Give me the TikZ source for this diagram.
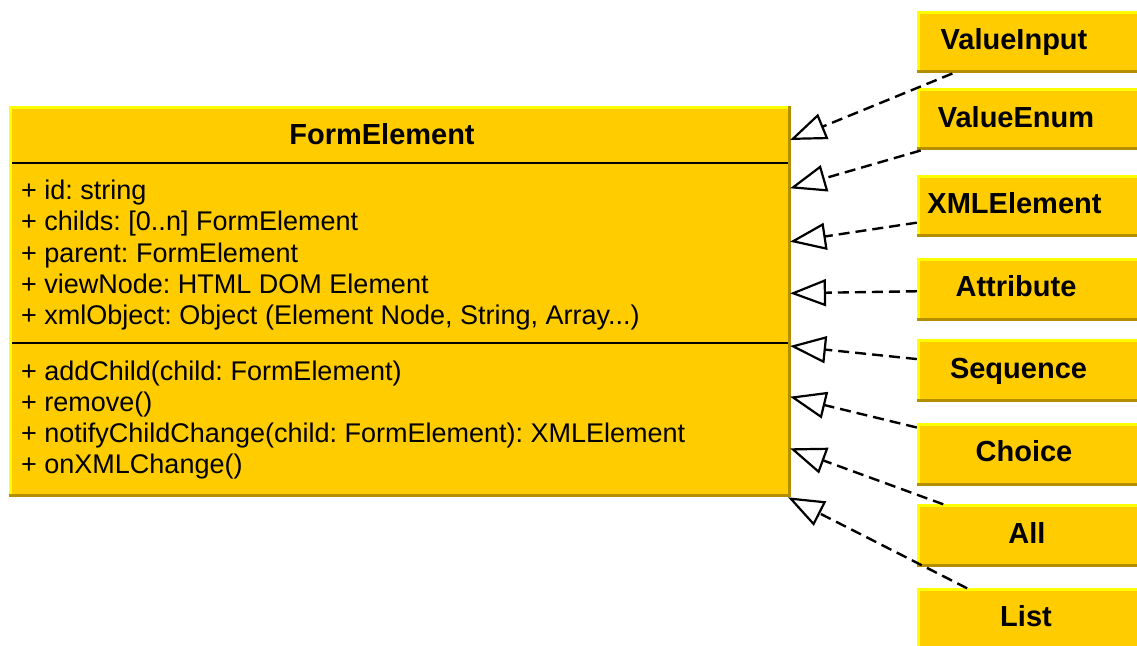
\documentclass[tikz,border=0pt]{standalone}
\usepackage{fontspec}
\setmainfont{Liberation Sans}
\usetikzlibrary{arrows.meta}
\definecolor{fc}{HTML}{FFCC00}
\definecolor{hlc}{HTML}{FFFF00}
\definecolor{shc}{HTML}{B38F00}
\frenchspacing
\tikzset{
  hl/.style={draw=hlc, line width=3bp},
  sh/.style={draw=shc, line width=3bp},
  divider/.style={draw=black, line width=2bp},
  subbox/.style={rectangle, fill=fc, draw=none, inner sep=0pt, minimum width=223bp, minimum height=62bp},
  mainbox/.style={rectangle, fill=fc, draw=none, inner sep=0pt, minimum width=782bp, minimum height=391bp},
  subtxt/.style={anchor=base, inner sep=0pt, font=\fontsize{29bp}{32bp}\selectfont\bfseries},
  memb/.style={anchor=base west, inner sep=0pt, font=\fontsize{27bp}{31bp}\selectfont},
  gen/.style={draw=black, line width=2.4bp, dash pattern=on 11bp off 6bp,
    -{Triangle[open, length=36bp, width=27bp, line width=2.2bp]}},
}
\begin{document}
\begin{tikzpicture}[x=1bp, y=-1bp]
\useasboundingbox (0,0) rectangle (1137,646);
\clip (0,0) rectangle (1137,646);
% main class box
\node[mainbox] (fe) at (400,301.5) {};
\draw[hl] ([shift={(1.5,0)}]fe.south west) -- ([shift={(1.5,1.5)}]fe.north west) -- ([shift={(0,1.5)}]fe.north east);
\draw[sh] ([shift={(0,-1.5)}]fe.south west) -- ([shift={(-1.5,-1.5)}]fe.south east) -- ([shift={(-1.5,0)}]fe.north east);
\draw[divider] (12,163.3) -- (788,163.3);
\draw[divider] (12,342.5) -- (788,342.5);
\node[subtxt] (title) at (382,145) {FormElement};
\node[memb] (a1) at (21,199.5) {+ id: string};
\node[memb] (a2) at (21,231) {+ childs: [0..n] FormElement};
\node[memb] (a3) at (21,262.5) {+ parent: FormElement};
\node[memb] (a4) at (21,293.5) {+ viewNode: HTML DOM Element};
\node[memb] (a5) at (21,324.5) {+ xmlObject: Object (Element Node, String, Array...)};
\node[memb] (m1) at (21,380.7) {+ addChild(child: FormElement)};
\node[memb] (m2) at (21,411.6) {+ remove()};
\node[memb] (m3) at (21,442.5) {+ notifyChildChange(child: FormElement): XMLElement};
\node[memb] (m4) at (21,473.3) {+ onXMLChange()};
% subclass boxes
\node[subbox] (vi) at (1028.5,42.3) {};
\node[subbox] (ve) at (1028.5,119.3) {};
\node[subbox] (xe) at (1028.5,206) {};
\node[subbox] (at) at (1028.5,289.5) {};
\node[subbox] (se) at (1028.5,370.5) {};
\node[subbox] (ch) at (1028.5,454.5) {};
\node[subbox] (al) at (1028.5,535.5) {};
\node[subbox] (li) at (1028.5,619.5) {};
\foreach \n in {vi,ve,xe,at,se,ch,al,li}{
  \draw[hl] ([shift={(1.5,0)}]\n.south west) -- ([shift={(1.5,1.5)}]\n.north west) -- ([shift={(0,1.5)}]\n.north east);
  \draw[sh] ([shift={(0,-1.5)}]\n.south west) -- ([shift={(-1.5,-1.5)}]\n.south east) -- ([shift={(-1.5,0)}]\n.north east);
}
\node[subtxt] (vit) at (1014,50) {ValueInput};
\node[subtxt] (vet) at (1016,127.3) {ValueEnum};
\node[subtxt] (xet) at (1014.5,213.3) {XMLElement};
\node[subtxt] (att) at (1016,296.7) {Attribute};
\node[subtxt] (set) at (1018.5,378.3) {Sequence};
\node[subtxt] (cht) at (1024,461.7) {Choice};
\node[subtxt] (alt) at (1027,543.3) {All};
\node[subtxt] (lit) at (1026,626.7) {List};
% arrow tips on the main box
\coordinate (t1) at (790,140);
\coordinate (t2) at (790,188.3);
\coordinate (t3) at (790,241.7);
\coordinate (t4) at (790,293.3);
\coordinate (t5) at (790,346);
\coordinate (t6) at (790,396.7);
\coordinate (t7) at (790,448.3);
\coordinate (t8) at (788,497.3);
\draw[gen] (vi) -- (t1);
\draw[gen] (ve) -- (t2);
\draw[gen] (xe) -- (t3);
\draw[gen] (at) -- (t4);
\draw[gen] (se) -- (t5);
\draw[gen] (ch) -- (t6);
\draw[gen] (al) -- (t7);
\draw[gen] (li) -- (t8);
\end{tikzpicture}
\end{document}
